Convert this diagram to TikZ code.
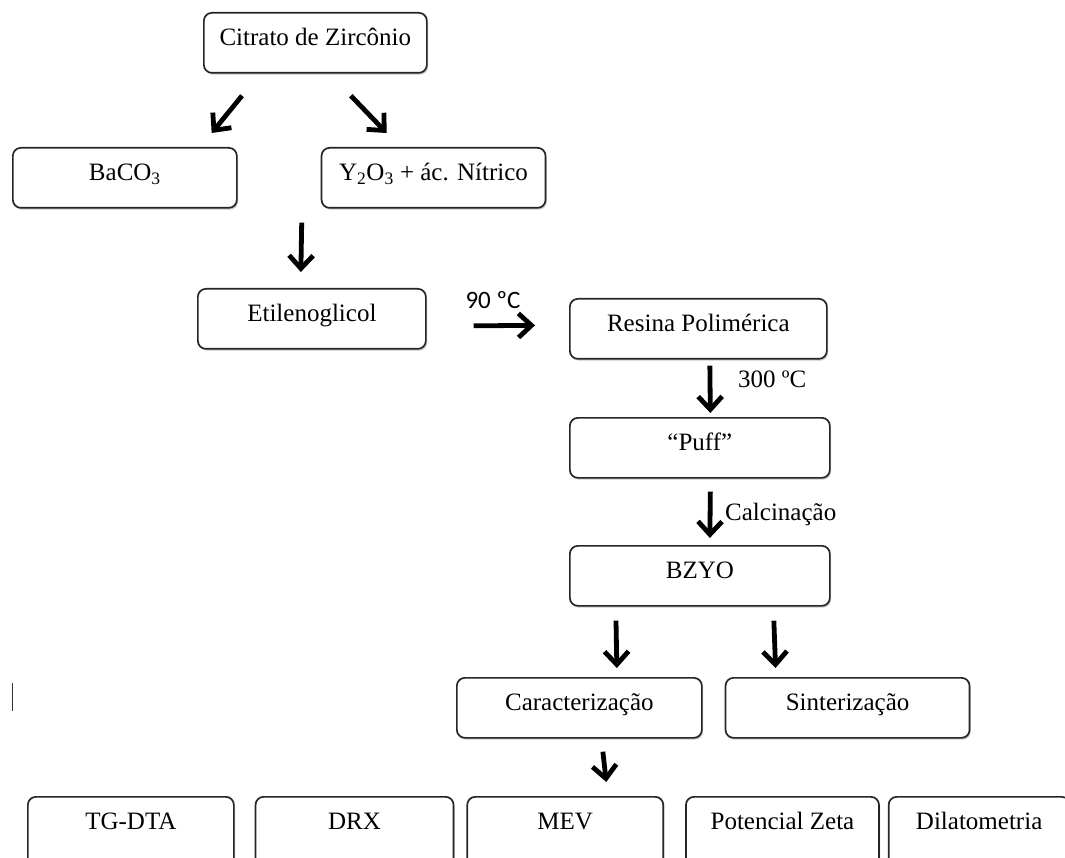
\documentclass[tikz,border=0pt]{standalone}
\usepackage{fontspec}
\setmainfont{Liberation Serif}
\newfontfamily\labelsans{Carlito}
\usepackage{tikz}
\usetikzlibrary{positioning,arrows.meta,shadows}
\tikzset{main box/.style={draw=black!85, line width=1.7pt, rounded corners=8pt, fill=white, inner sep=0pt, minimum height=60pt, text height=33pt, text depth=27pt, drop shadow={shadow xshift=1.2pt, shadow yshift=-1.8pt, fill=black!60, opacity=0.35}},
  cut box/.style={main box, minimum height=90pt, text depth=57pt},
  flow arrow/.style={line width=4.8pt, -{Straight Barb[length=13pt,width=24pt]}},
  temp label/.style={inner sep=0pt},}

\begin{document}
\begin{tikzpicture}[x=1pt, y=-1pt, font=\fontsize{25}{29}\selectfont]
        \clip (0,0) rectangle (1065,858);
        % Nodes
        \node[main box, minimum width=223pt, anchor=north west] (cit) at (203,12) {Citrato de Zircônio};
        \node[main box, minimum width=224pt, anchor=north west] (baco) at (12,147) {BaCO\textsubscript{3}};
        \node[main box, minimum width=224pt] [right = 83pt of baco] (ytr) {Y\textsubscript{2}O\textsubscript{3} + ác. Nítrico};
        \node[main box, minimum width=228pt, anchor=north west] (etil) at (197,288) {Etilenoglicol};
        \node[main box, minimum width=257pt, anchor=north west] (res) at (569,298) {Resina Polimérica};
        \node[main box, minimum width=260pt, anchor=north west] (puff) at (569,417) {“Puff”};
        \node[main box, minimum width=260pt, anchor=north west] (bzyo) at (569,545) {BZYO};
        \node[main box, minimum width=245pt, anchor=north west] (carac) at (456,677) {Caracterização};
        \node[main box, minimum width=244pt] [right = 22pt of carac] (sint) {Sinterização};
        \node[cut box, minimum width=206pt, anchor=north west] (tgdta) at (27,796) {TG-DTA};
        \node[cut box, minimum width=198pt] [right = 20pt of tgdta] (drx) {DRX};
        \node[cut box, minimum width=196pt] [right = 12pt of drx] (mev) {MEV};
        \node[cut box, minimum width=193pt] [right = 21pt of mev] (zeta) {Potencial Zeta};
        \node[cut box, minimum width=181pt] [right = 8pt of zeta] (dilat) {Dilatometria};
        % Labels
        \node[temp label, anchor=base, font=\labelsans\fontsize{25}{29}\selectfont] (t90) at (493,309) {90 ºC};
        \node[temp label, anchor=base west] (t300) at (738,387) {300 ºC};
        \node[temp label, anchor=base west] (tcalc) at (725,520) {Calcinação};
        % Paths
        \draw[flow arrow] ([xshift=39pt,yshift=-22pt]cit.south west) -- ([xshift=-26pt,yshift=14pt]baco.north east);
        \draw[flow arrow] ([xshift=35.5pt,yshift=-22pt]cit.south) -- ([xshift=66pt,yshift=14pt]ytr.north west);
        \draw[flow arrow] ([xshift=-19pt,yshift=-14pt]ytr.south west) -- ([xshift=-11pt,yshift=16pt]etil.north);
        \draw[flow arrow] ([xshift=47pt,yshift=-7pt]etil.east) -- ([xshift=-34pt,yshift=3.5pt]res.west);
        \draw[flow arrow] ([xshift=11.5pt,yshift=-6pt]res.south) -- ([xshift=10.5pt,yshift=4pt]puff.north);
        \draw[flow arrow] ([xshift=10.5pt,yshift=-13pt]puff.south) -- ([xshift=10pt,yshift=7pt]bzyo.north);
        \draw[flow arrow] ([xshift=47pt,yshift=-14pt]bzyo.south west) -- ([xshift=37.5pt,yshift=9pt]carac.north);
        \draw[flow arrow] ([xshift=74pt,yshift=-14pt]bzyo.south) -- ([xshift=-72pt,yshift=9pt]sint.north);
        \draw[flow arrow] ([xshift=23.5pt,yshift=-13pt]carac.south) -- ([xshift=41pt,yshift=14pt]mev.north);
        % stray cursor mark on the left
        \draw[line width=1pt, black!80] (12,683) -- (12,711);
\end{tikzpicture}
\end{document}
